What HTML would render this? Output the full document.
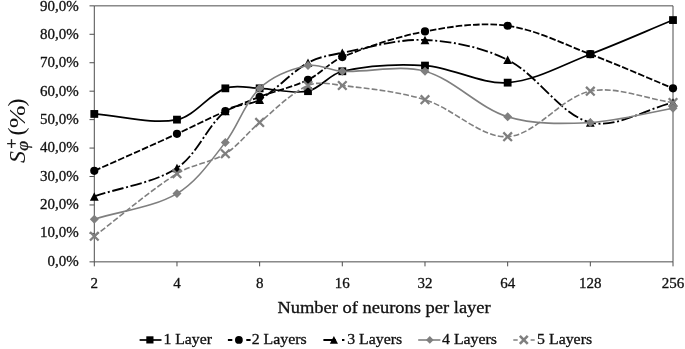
<!DOCTYPE html><html><head><meta charset="utf-8"><style>html,body{margin:0;padding:0;background:#fff}svg{display:block}</style></head><body><svg width="685" height="349" viewBox="0 0 685 349">
<rect width="100%" height="100%" fill="#fff"/>
<path d="M94.30 5.85 H673.00 V261.85" stroke="#4d4d4d" stroke-width="1" fill="none"/>
<path d="M94.30 5.85 V261.85 H673.00" stroke="#4d4d4d" stroke-width="1" fill="none"/>
<path d="M94.30 261.85 h-4.8M94.30 233.41 h-4.8M94.30 204.96 h-4.8M94.30 176.52 h-4.8M94.30 148.07 h-4.8M94.30 119.63 h-4.8M94.30 91.18 h-4.8M94.30 62.74 h-4.8M94.30 34.29 h-4.8M94.30 5.85 h-4.8M94.30 261.85 v4.5M176.97 261.85 v4.5M259.64 261.85 v4.5M342.31 261.85 v4.5M424.99 261.85 v4.5M507.66 261.85 v4.5M590.33 261.85 v4.5M673.00 261.85 v4.5" stroke="#4d4d4d" stroke-width="1" fill="none"/>
<g font-family="'Liberation Serif', serif" font-size="15" fill="#111" stroke="#111" stroke-width="0.3">
<text x="78.7" y="265.50" text-anchor="end">0,0%</text>
<text x="78.7" y="237.19" text-anchor="end">10,0%</text>
<text x="78.7" y="208.88" text-anchor="end">20,0%</text>
<text x="78.7" y="180.57" text-anchor="end">30,0%</text>
<text x="78.7" y="152.26" text-anchor="end">40,0%</text>
<text x="78.7" y="123.95" text-anchor="end">50,0%</text>
<text x="78.7" y="95.64" text-anchor="end">60,0%</text>
<text x="78.7" y="67.33" text-anchor="end">70,0%</text>
<text x="78.7" y="39.02" text-anchor="end">80,0%</text>
<text x="78.7" y="10.71" text-anchor="end">90,0%</text>
<text x="94.30" y="288.1" text-anchor="middle">2</text>
<text x="176.97" y="288.1" text-anchor="middle">4</text>
<text x="259.64" y="288.1" text-anchor="middle">8</text>
<text x="342.31" y="288.1" text-anchor="middle">16</text>
<text x="424.99" y="288.1" text-anchor="middle">32</text>
<text x="507.66" y="288.1" text-anchor="middle">64</text>
<text x="590.33" y="288.1" text-anchor="middle">128</text>
<text x="673.00" y="288.1" text-anchor="middle">256</text>
</g>
<text x="277.4" y="312.8" font-family="'Liberation Serif', serif" font-size="16.6" fill="#111" stroke="#111" stroke-width="0.3" textLength="213.3" lengthAdjust="spacingAndGlyphs">Number of neurons per layer</text>
<g transform="translate(24.7,163) rotate(-90)" font-family="'Liberation Serif', serif" fill="#111">
<text x="0" y="0" font-size="24" font-style="italic">S</text>
<text x="14.4" y="-8" font-size="17.5" stroke="#111" stroke-width="0.5">+</text>
<text x="12.2" y="3.7" font-size="17.5" font-style="italic" stroke="#111" stroke-width="0.35">φ</text>
<text x="27.6" y="-0.8" font-size="24">(</text>
<text x="34.8" y="0" font-size="24" textLength="22.9" lengthAdjust="spacingAndGlyphs">%</text>
<text x="56.4" y="-0.8" font-size="24">)</text>
</g>
<path d="M94.30 113.94 C121.86 115.84 151.20 124.66 176.97 119.63 C194.88 116.13 208.06 94.87 225.33 88.34 C235.62 84.45 248.22 87.95 259.64 88.34 C275.77 88.89 292.85 94.31 308.00 91.18 C320.41 88.62 329.69 74.03 342.31 71.27 C368.68 65.50 397.68 63.70 424.99 65.58 C452.80 67.50 480.58 84.51 507.66 82.65 C535.70 80.72 563.09 64.52 590.33 54.21 C618.20 43.66 645.44 31.45 673.00 20.07" stroke="#000" stroke-width="1.70" fill="none" />
<rect x="90.40" y="110.04" width="7.80" height="7.80" fill="#000"/>
<rect x="173.07" y="115.73" width="7.80" height="7.80" fill="#000"/>
<rect x="221.43" y="84.44" width="7.80" height="7.80" fill="#000"/>
<rect x="255.74" y="84.44" width="7.80" height="7.80" fill="#000"/>
<rect x="304.10" y="87.28" width="7.80" height="7.80" fill="#000"/>
<rect x="338.41" y="67.37" width="7.80" height="7.80" fill="#000"/>
<rect x="421.09" y="61.68" width="7.80" height="7.80" fill="#000"/>
<rect x="503.76" y="78.75" width="7.80" height="7.80" fill="#000"/>
<rect x="586.43" y="50.31" width="7.80" height="7.80" fill="#000"/>
<rect x="669.10" y="16.17" width="7.80" height="7.80" fill="#000"/>
<path d="M94.30 170.83 C121.86 158.50 149.50 146.37 176.97 133.85 C193.18 126.46 209.07 118.37 225.33 111.09 C236.63 106.04 248.07 101.25 259.64 96.87 C275.62 90.82 292.72 87.17 308.00 79.81 C320.27 73.89 329.74 62.25 342.31 57.05 C368.74 46.13 396.83 36.78 424.99 31.45 C451.94 26.35 480.84 22.07 507.66 25.76 C535.95 29.66 563.09 43.89 590.33 54.21 C618.20 64.75 645.44 76.96 673.00 88.34" stroke="#000" stroke-width="1.80" fill="none" stroke-dasharray="6.6 2.1"/>
<circle cx="94.30" cy="170.83" r="4.10" fill="#000"/>
<circle cx="176.97" cy="133.85" r="4.10" fill="#000"/>
<circle cx="225.33" cy="111.09" r="4.10" fill="#000"/>
<circle cx="259.64" cy="96.87" r="4.10" fill="#000"/>
<circle cx="308.00" cy="79.81" r="4.10" fill="#000"/>
<circle cx="342.31" cy="57.05" r="4.10" fill="#000"/>
<circle cx="424.99" cy="31.45" r="4.10" fill="#000"/>
<circle cx="507.66" cy="25.76" r="4.10" fill="#000"/>
<circle cx="590.33" cy="54.21" r="4.10" fill="#000"/>
<circle cx="673.00" cy="88.34" r="4.10" fill="#000"/>
<path d="M94.30 196.43 C121.86 186.95 153.41 183.33 176.97 167.98 C197.09 154.88 206.76 126.43 225.33 111.09 C234.32 103.67 249.38 105.72 259.64 99.72 C276.93 89.60 290.64 72.60 308.00 62.74 C318.19 56.95 330.64 55.05 342.31 52.78 C369.64 47.47 397.65 38.81 424.99 39.98 C452.77 41.18 482.82 47.50 507.66 59.89 C537.94 75.00 560.05 114.66 590.33 122.47 C615.16 128.88 645.44 109.20 673.00 102.56" stroke="#000" stroke-width="1.85" fill="none" stroke-dasharray="11.6 2.6 2 2.6"/>
<path d="M94.30 192.13 l4.40 8.50 h-8.80 z" fill="#000"/>
<path d="M176.97 163.68 l4.40 8.50 h-8.80 z" fill="#000"/>
<path d="M225.33 106.79 l4.40 8.50 h-8.80 z" fill="#000"/>
<path d="M259.64 95.42 l4.40 8.50 h-8.80 z" fill="#000"/>
<path d="M308.00 58.44 l4.40 8.50 h-8.80 z" fill="#000"/>
<path d="M342.31 48.48 l4.40 8.50 h-8.80 z" fill="#000"/>
<path d="M424.99 35.68 l4.40 8.50 h-8.80 z" fill="#000"/>
<path d="M507.66 55.59 l4.40 8.50 h-8.80 z" fill="#000"/>
<path d="M590.33 118.17 l4.40 8.50 h-8.80 z" fill="#000"/>
<path d="M673.00 98.26 l4.40 8.50 h-8.80 z" fill="#000"/>
<path d="M94.30 219.18 C121.86 210.65 152.89 207.70 176.97 193.58 C196.57 182.10 210.90 160.76 225.33 142.38 C238.45 125.68 244.62 102.29 259.64 88.34 C272.18 76.69 291.31 69.03 308.00 65.58 C318.87 63.34 330.77 70.71 342.31 71.27 C369.76 72.61 399.25 64.19 424.99 71.27 C454.36 79.36 478.31 107.70 507.66 116.78 C533.43 124.76 562.94 123.89 590.33 122.47 C618.05 121.04 645.44 112.99 673.00 108.25" stroke="#7f7f7f" stroke-width="1.60" fill="none" />
<path d="M94.30 214.68 l4.50 4.50 l-4.50 4.50 l-4.50 -4.50 z" fill="#7f7f7f"/>
<path d="M176.97 189.08 l4.50 4.50 l-4.50 4.50 l-4.50 -4.50 z" fill="#7f7f7f"/>
<path d="M225.33 137.88 l4.50 4.50 l-4.50 4.50 l-4.50 -4.50 z" fill="#7f7f7f"/>
<path d="M259.64 83.84 l4.50 4.50 l-4.50 4.50 l-4.50 -4.50 z" fill="#7f7f7f"/>
<path d="M308.00 61.08 l4.50 4.50 l-4.50 4.50 l-4.50 -4.50 z" fill="#7f7f7f"/>
<path d="M342.31 66.77 l4.50 4.50 l-4.50 4.50 l-4.50 -4.50 z" fill="#7f7f7f"/>
<path d="M424.99 66.77 l4.50 4.50 l-4.50 4.50 l-4.50 -4.50 z" fill="#7f7f7f"/>
<path d="M507.66 112.28 l4.50 4.50 l-4.50 4.50 l-4.50 -4.50 z" fill="#7f7f7f"/>
<path d="M590.33 117.97 l4.50 4.50 l-4.50 4.50 l-4.50 -4.50 z" fill="#7f7f7f"/>
<path d="M673.00 103.75 l4.50 4.50 l-4.50 4.50 l-4.50 -4.50 z" fill="#7f7f7f"/>
<path d="M94.30 236.25 C121.86 215.39 147.94 191.95 176.97 173.67 C191.62 164.45 210.73 162.80 225.33 153.76 C238.29 145.73 247.72 132.32 259.64 122.47 C275.28 109.56 290.38 93.38 308.00 85.49 C317.94 81.05 330.99 84.12 342.31 85.49 C369.99 88.86 398.48 91.51 424.99 99.72 C453.60 108.58 480.67 138.09 507.66 136.69 C535.78 135.24 561.08 97.22 590.33 91.18 C616.19 85.84 645.44 98.77 673.00 102.56" stroke="#7f7f7f" stroke-width="1.60" fill="none" stroke-dasharray="5.8 2.2"/>
<path d="M90.00 231.95 l8.60 8.60 m0 -8.60 l-8.60 8.60" stroke="#7f7f7f" stroke-width="2.30" fill="none"/>
<path d="M172.67 169.37 l8.60 8.60 m0 -8.60 l-8.60 8.60" stroke="#7f7f7f" stroke-width="2.30" fill="none"/>
<path d="M221.03 149.46 l8.60 8.60 m0 -8.60 l-8.60 8.60" stroke="#7f7f7f" stroke-width="2.30" fill="none"/>
<path d="M255.34 118.17 l8.60 8.60 m0 -8.60 l-8.60 8.60" stroke="#7f7f7f" stroke-width="2.30" fill="none"/>
<path d="M303.70 81.19 l8.60 8.60 m0 -8.60 l-8.60 8.60" stroke="#7f7f7f" stroke-width="2.30" fill="none"/>
<path d="M338.01 81.19 l8.60 8.60 m0 -8.60 l-8.60 8.60" stroke="#7f7f7f" stroke-width="2.30" fill="none"/>
<path d="M420.69 95.42 l8.60 8.60 m0 -8.60 l-8.60 8.60" stroke="#7f7f7f" stroke-width="2.30" fill="none"/>
<path d="M503.36 132.39 l8.60 8.60 m0 -8.60 l-8.60 8.60" stroke="#7f7f7f" stroke-width="2.30" fill="none"/>
<path d="M586.03 86.88 l8.60 8.60 m0 -8.60 l-8.60 8.60" stroke="#7f7f7f" stroke-width="2.30" fill="none"/>
<path d="M668.70 98.26 l8.60 8.60 m0 -8.60 l-8.60 8.60" stroke="#7f7f7f" stroke-width="2.30" fill="none"/>
<g font-family="'Liberation Serif', serif" font-size="14.67" fill="#111">
<path d="M139.60 340.00 H161.50" stroke="#000" stroke-width="1.70" fill="none"/>
<rect x="146.31" y="336.31" width="7.18" height="7.18" fill="#000"/>
<text x="163.40" y="343.6" stroke="#111" stroke-width="0.3" textLength="48.6" lengthAdjust="spacingAndGlyphs">1 Layer</text>
<path d="M227.90 340.00 H232.30M246.30 340.00 H250.60" stroke="#000" stroke-width="1.80" fill="none"/>
<circle cx="238.90" cy="339.90" r="3.89" fill="#000"/>
<text x="251.70" y="343.6" stroke="#111" stroke-width="0.3" textLength="55.0" lengthAdjust="spacingAndGlyphs">2 Layers</text>
<path d="M323.40 340.00 H335.80M342.00 340.00 H344.40" stroke="#000" stroke-width="1.85" fill="none"/>
<path d="M333.90 335.94 l4.05 7.82 h-8.10 z" fill="#000"/>
<text x="347.20" y="343.6" stroke="#111" stroke-width="0.3" textLength="55.0" lengthAdjust="spacingAndGlyphs">3 Layers</text>
<path d="M418.20 340.00 H440.40" stroke="#7f7f7f" stroke-width="1.60" fill="none"/>
<path d="M429.80 336.07 l3.82 3.82 l-3.82 3.82 l-3.82 -3.82 z" fill="#7f7f7f"/>
<text x="442.00" y="343.6" stroke="#111" stroke-width="0.3" textLength="55.0" lengthAdjust="spacingAndGlyphs">4 Layers</text>
<path d="M513.30 340.00 H517.70M530.60 340.00 H534.70" stroke="#7f7f7f" stroke-width="1.60" fill="none"/>
<path d="M519.84 335.94 l7.91 7.91 m0 -7.91 l-7.91 7.91" stroke="#7f7f7f" stroke-width="2.60" fill="none"/>
<text x="537.10" y="343.6" stroke="#111" stroke-width="0.3" textLength="55.0" lengthAdjust="spacingAndGlyphs">5 Layers</text>
</g>
</svg></body></html>
